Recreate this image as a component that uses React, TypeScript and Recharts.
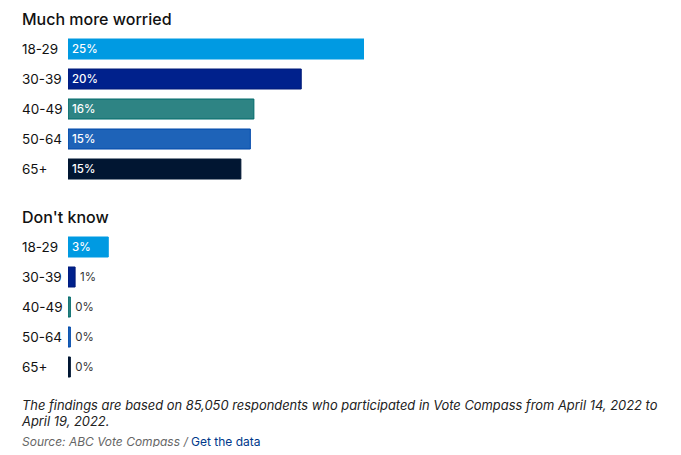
import React from 'react';
import { BarChart, Bar, XAxis, YAxis, Cell, LabelList } from 'recharts';

const ageGroups = ['18-29', '30-39', '40-49', '50-64', '65+'];
const muchMoreWorried = [25, 19.7, 15.7, 15.4, 14.6];
const dontKnow = [3.4, 0.6, 0.2, 0.2, 0.2];
const barFills = ['#009ae2', '#00218c', '#2e8484', '#1e63b8', '#011632'];
const barStrokes = ['#009ae2', '#001a78', '#006a6a', '#0048aa', '#011632'];

const FONT = 'Inter, "Noto Sans", sans-serif';

const muchData = ageGroups.map((g, i) => ({ group: g, value: muchMoreWorried[i] }));
const dkData = ageGroups.map((g, i) => ({ group: g, value: dontKnow[i] }));

const AgeTick = (props: any) => {
  const { y, payload } = props;
  return (
    <text x={14} y={y} dy={5} textAnchor="start" fontSize={13.5} fill="#111" fontFamily={FONT}>
      {payload.value}
    </text>
  );
};

const ValueLabel = (props: any) => {
  const { x, y, width, height, value } = props;
  const txt = `${Math.round(value)}%`;
  const inside = width > 30;
  return (
    <text
      x={inside ? x + 4 : x + width + 5}
      y={y + height / 2}
      dy={4}
      textAnchor="start"
      fontSize={11.5}
      fontWeight={inside ? 500 : 400}
      fill={inside ? '#ffffff' : '#333'}
      fontFamily={FONT}
    >
      {txt}
    </text>
  );
};

const Chart = ({ data }: { data: any[] }) => (
  <BarChart
    width={360}
    height={150}
    data={data}
    layout="vertical"
    margin={{ top: 0, right: 4, bottom: 0, left: 14 }}
    barSize={20}
  >
    <XAxis type="number" domain={[0, 25]} allowDataOverflow hide />
    <YAxis
      type="category"
      dataKey="group"
      width={46}
      axisLine={false}
      tickLine={false}
      tick={<AgeTick />}
      interval={0}
    />
    <Bar dataKey="value" isAnimationActive={false} strokeWidth={1}>
      {data.map((d, i) => (
        <Cell key={d.group} fill={barFills[i]} stroke={barStrokes[i]} />
      ))}
      <LabelList dataKey="value" content={<ValueLabel />} />
    </Bar>
  </BarChart>
);

export default function App() {
  return (
    <div style={{ position: 'relative', width: 665, height: 439, fontFamily: FONT, color: '#111' }}>
      <div style={{ position: 'absolute', top: 1, left: 14, fontSize: 16, lineHeight: '20px', fontWeight: 500 }}>
        Much more worried
      </div>
      <div style={{ position: 'absolute', top: 26, left: 0 }}>
        <Chart data={muchData} />
      </div>
      <div style={{ position: 'absolute', top: 199, left: 14, fontSize: 16, lineHeight: '20px', fontWeight: 500 }}>
        Don't know
      </div>
      <div style={{ position: 'absolute', top: 224, left: 0 }}>
        <Chart data={dkData} />
      </div>
      <div
        style={{
          position: 'absolute',
          top: 390,
          left: 14,
          width: 650,
          fontSize: 12.9,
          lineHeight: '16px',
          fontStyle: 'italic',
          color: '#222',
          whiteSpace: 'nowrap',
        }}
      >
        The findings are based on 85,050 respondents who participated in Vote Compass from April 14, 2022 to
        <br />
        April 19, 2022.
      </div>
      <div style={{ position: 'absolute', top: 426, left: 14, fontSize: 12, lineHeight: '16px', color: '#666', whiteSpace: 'nowrap' }}>
        <span style={{ fontStyle: 'italic' }}>Source: ABC Vote Compass / </span>
        <span style={{ color: '#00388a' }}>Get the data</span>
      </div>
    </div>
  );
}
